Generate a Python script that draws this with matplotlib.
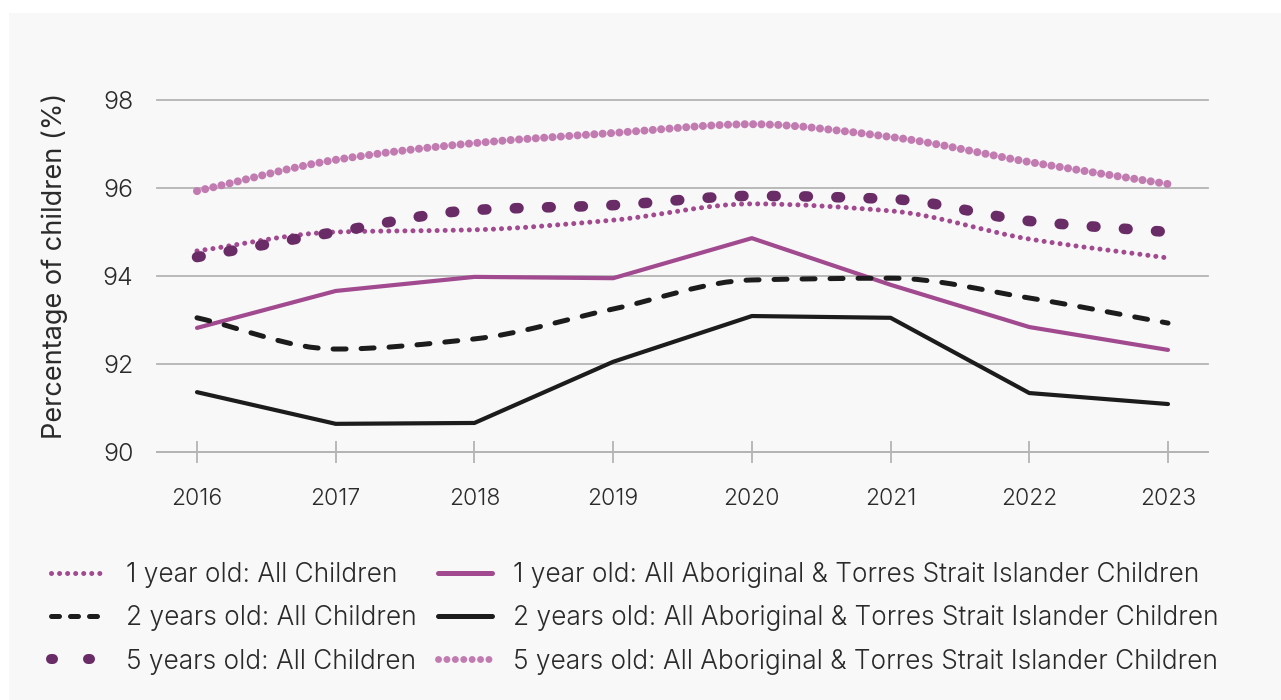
import numpy as np
import matplotlib
matplotlib.use("Agg")
import matplotlib.pyplot as plt
from matplotlib.path import Path
from matplotlib.patches import PathPatch, Rectangle
from matplotlib.lines import Line2D

plt.rcParams["font.family"] = ["Inter", "DejaVu Sans"]
plt.rcParams["font.weight"] = 300

years = [2016, 2017, 2018, 2019, 2020, 2021, 2022, 2023]

one_all = [94.57, 95.00, 95.05, 95.27, 95.64, 95.48, 94.84, 94.41]
two_all = [93.05, 92.34, 92.57, 93.25, 93.91, 93.95, 93.50, 92.93]
five_all = [94.43, 95.00, 95.50, 95.61, 95.82, 95.75, 95.25, 95.00]
one_atsi = [92.82, 93.66, 93.98, 93.95, 94.86, 93.80, 92.84, 92.32]
two_atsi = [91.36, 90.64, 90.66, 92.05, 93.09, 93.05, 91.34, 91.09]
five_atsi = [95.93, 96.64, 97.02, 97.25, 97.45, 97.16, 96.59, 96.09]

labels = [
    "1 year old: All Children",
    "2 years old: All Children",
    "5 years old: All Children",
    "1 year old: All Aboriginal & Torres Strait Islander Children",
    "2 years old: All Aboriginal & Torres Strait Islander Children",
    "5 years old: All Aboriginal & Torres Strait Islander Children",
]
y_ticks = [90, 92, 94, 96, 98]

PURPLE = "#a14a8f"
DARK_PURPLE = "#6a2c67"
PINK = "#c27bb1"
BLACK = "#1c1c1c"
GRID = "#b4b4b4"
TEXT = "#2a2a2a"


def monotone_path(xs, ys):
    """Monotone cubic curve through the points, as a Bezier path."""
    x = np.asarray(xs, float)
    y = np.asarray(ys, float)
    h = np.diff(x)
    d = np.diff(y) / h
    m = np.zeros_like(y)
    m[0], m[-1] = d[0], d[-1]
    for i in range(1, len(y) - 1):
        if d[i - 1] * d[i] <= 0:
            m[i] = 0.0
        else:
            w1 = 2 * h[i] + h[i - 1]
            w2 = h[i] + 2 * h[i - 1]
            m[i] = (w1 + w2) / (w1 / d[i - 1] + w2 / d[i])
    verts = [(x[0], y[0])]
    codes = [Path.MOVETO]
    for i in range(len(x) - 1):
        verts += [(x[i] + h[i] / 3, y[i] + m[i] * h[i] / 3),
                  (x[i + 1] - h[i] / 3, y[i + 1] - m[i + 1] * h[i] / 3),
                  (x[i + 1], y[i + 1])]
        codes += [Path.CURVE4] * 3
    return Path(verts, codes)


fig = plt.figure(figsize=(12.81, 7.0), dpi=100, facecolor="white")
fig.patches.append(Rectangle((9 / 1281, 0), 1, 1 - 13 / 700, transform=fig.transFigure,
                             facecolor="#f8f8f8", edgecolor="none", zorder=-10))

ax = fig.add_axes([157 / 1281, 1 - 452 / 700, (1208 - 157) / 1281, (452 - 100) / 700])
ax.set_facecolor("none")
pad_x = 40 / (971 / 7)
ax.set_xlim(2016 - pad_x, 2023 + pad_x)
ax.set_ylim(90, 98)

ax.set_yticks(y_ticks)
ax.set_xticks(years)
ax.grid(axis="y", color=GRID, linewidth=1.3, clip_on=False)
ax.grid(axis="x", visible=False)
for s in ["top", "right", "left"]:
    ax.spines[s].set_visible(False)
ax.spines["bottom"].set_color(GRID)
ax.spines["bottom"].set_linewidth(1.3)
ax.tick_params(axis="x", direction="inout", length=16, width=1.3, color=GRID,
               pad=18, labelsize=16.5, labelcolor=TEXT)
ax.tick_params(axis="y", length=0, pad=17, labelsize=18, labelcolor=TEXT)
for gl in ax.get_ygridlines():
    gl.set_clip_on(False)
ax.set_ylabel("Percentage of children (%)", fontsize=19.5, color=TEXT)
ax.yaxis.set_label_coords(-0.085, 0.53)

# straight series
ax.plot(years, one_atsi, color=PURPLE, lw=3, solid_capstyle="round",
        solid_joinstyle="round", zorder=3)
ax.plot(years, two_atsi, color=BLACK, lw=3, solid_capstyle="round",
        solid_joinstyle="round", zorder=3)

# smoothed series
smooth_specs = [
    (one_all, PURPLE, 3.6, (0, (0.01, 1.6))),
    (two_all, BLACK, 3.6, (0, (2.6, 3.0))),
    (five_all, DARK_PURPLE, 7.6, (0, (0.35, 2.7))),
    (five_atsi, PINK, 5.8, (0, (0.01, 1.03))),
]
for vals, col, lw, ls in smooth_specs:
    p = PathPatch(monotone_path(years, vals), fill=False, edgecolor=col, lw=lw,
                  linestyle=ls, capstyle="round", joinstyle="round", zorder=3,
                  transform=ax.transData)
    ax.add_patch(p)

handles = [
    Line2D([], [], color=PURPLE, lw=3.6, linestyle=(0, (0.01, 1.6)), dash_capstyle="round"),
    Line2D([], [], color=BLACK, lw=3.6, linestyle=(0, (1.6, 2.2)), dash_capstyle="round"),
    Line2D([], [], color=DARK_PURPLE, lw=7.2, linestyle=(0, (0.2, 3.5)), dash_capstyle="round"),
    Line2D([], [], color=PURPLE, lw=3.6, solid_capstyle="round"),
    Line2D([], [], color=BLACK, lw=3.6, solid_capstyle="round"),
    Line2D([], [], color=PINK, lw=5.0, linestyle=(0, (0.01, 1.2)), dash_capstyle="round"),
]
fig.legend(handles, labels, ncol=2, loc="upper left",
           bbox_to_anchor=(51 / 1281, 1 - 562 / 700), frameon=False,
           fontsize=18.9, labelcolor=TEXT, handlelength=2.05, handletextpad=0.8,
           columnspacing=0.83, labelspacing=0.66, borderaxespad=0, borderpad=0)

fig.savefig("out.png", dpi=100, facecolor="white")
